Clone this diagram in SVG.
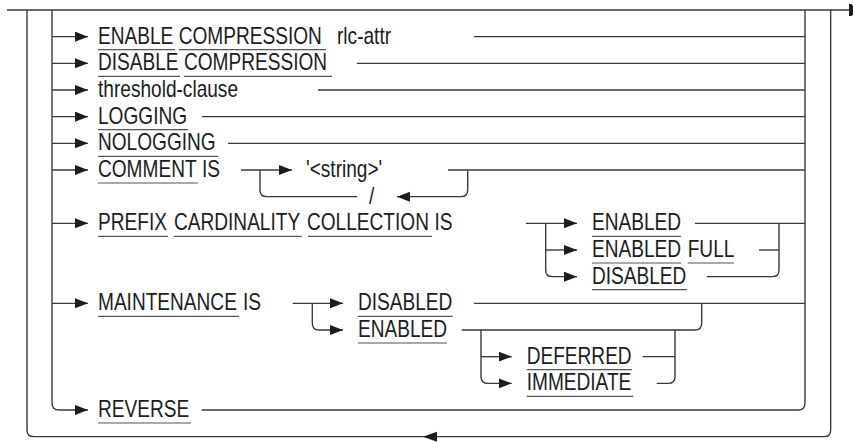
<svg xmlns="http://www.w3.org/2000/svg" width="854" height="442" viewBox="0 0 854 442">
<style>
  .c { fill: none; stroke: #3a3a3a; stroke-width: 1.4; }
  .u { stroke: #555; stroke-width: 1.1; }
  text { font-family: "Liberation Sans", Arial, sans-serif; font-size: 23px; fill: #1c1c1c; }
  .ah { fill: #1c1c1c; }
</style>
<defs>
  <marker id="a" markerUnits="userSpaceOnUse" markerWidth="14" markerHeight="11" refX="13" refY="5" orient="auto">
    <path d="M0,0 L13,5 L0,10 z" fill="#1c1c1c"/>
  </marker>
</defs>

<g id="connectors">
  <path class="c" d="M7,10 H849"/>
  <path class="ah" d="M849,4 H851 Q853,4 853,6.5 V13.5 Q853,16 851,16 H849 z"/>
  <path class="c" d="M27,10 V430 Q27,436.67 34,436.67 H824 Q830.67,436.67 830.67,430 V10"/>
  <polygon class="ah" points="423,436.67 437,431.67 437,441.67"/>
  <path class="c" d="M52,10 V403 Q52,410 59,410 H88" marker-end="url(#a)"/>
  <path class="c" d="M805,10 V403 Q805,410 798,410 H201.7"/>
  <path class="c" d="M52,36.67 H88" marker-end="url(#a)"/>
  <path class="c" d="M52,63.33 H88" marker-end="url(#a)"/>
  <path class="c" d="M52,90 H88" marker-end="url(#a)"/>
  <path class="c" d="M52,116.67 H88" marker-end="url(#a)"/>
  <path class="c" d="M52,143.33 H88" marker-end="url(#a)"/>
  <path class="c" d="M52,170 H88" marker-end="url(#a)"/>
  <path class="c" d="M52,223.33 H88" marker-end="url(#a)"/>
  <path class="c" d="M52,303.33 H88" marker-end="url(#a)"/>
  <path class="c" d="M474,36.67 H805"/>
  <path class="c" d="M357,63.33 H805"/>
  <path class="c" d="M318,90 H805"/>
  <path class="c" d="M202,116.67 H805"/>
  <path class="c" d="M228,143.33 H805"/>
  <path class="c" d="M241,170 H292" marker-end="url(#a)"/>
  <path class="c" d="M448,170 H805"/>
  <path class="c" d="M260,170 V190 Q260,196.67 267,196.67 H357"/>
  <path class="c" d="M467.7,170 V190 Q467.7,196.67 461,196.67 H397" marker-end="url(#a)"/>
  <path class="c" d="M526,223.33 H577" marker-end="url(#a)"/>
  <path class="c" d="M545.7,223.33 V270 Q545.7,276.67 552.4,276.67 H577" marker-end="url(#a)"/>
  <path class="c" d="M545.7,250 H577" marker-end="url(#a)"/>
  <path class="c" d="M695,223.33 H805"/>
  <path class="c" d="M759,250 H779"/>
  <path class="c" d="M707,276.67 H772.3 Q779,276.67 779,270 V223.33"/>
  <path class="c" d="M292.7,303.33 H343" marker-end="url(#a)"/>
  <path class="c" d="M312.3,303.33 V323.3 Q312.3,330 319,330 H343" marker-end="url(#a)"/>
  <path class="c" d="M474,303.33 H805"/>
  <path class="c" d="M461.7,330 H695 Q701.7,330 701.7,323.3 V303.33"/>
  <path class="c" d="M481,330 V376.67 Q481,383.33 487.7,383.33 H511.7" marker-end="url(#a)"/>
  <path class="c" d="M481,356.67 H511.7" marker-end="url(#a)"/>
  <path class="c" d="M642.7,356.67 H675"/>
  <path class="c" d="M656.7,383.33 H668.3 Q675,383.33 675,376.67 V330"/>
</g>

<g id="enable-compression">
  <text transform="translate(98 43.67) scale(0.83 1)">ENABLE</text>
  <text transform="translate(178.7 43.67) scale(0.83 1)">COMPRESSION</text>
  <text transform="translate(337 43.67) scale(0.83 1)">rlc-attr</text>
  <line class="u" x1="98" y1="49.67" x2="175" y2="49.67"/>
  <line class="u" x1="179" y1="49.67" x2="326" y2="49.67"/>
</g>
<g id="disable-compression">
  <text transform="translate(98 70.33) scale(0.83 1)">DISABLE</text>
  <text transform="translate(184 70.33) scale(0.83 1)">COMPRESSION</text>
  <line class="u" x1="98" y1="76.33" x2="180" y2="76.33"/>
  <line class="u" x1="184" y1="76.33" x2="332" y2="76.33"/>
</g>
<g id="threshold-clause">
  <text transform="translate(98 97) scale(0.83 1)">threshold-clause</text>
</g>
<g id="logging">
  <text transform="translate(98 123.67) scale(0.83 1)">LOGGING</text>
  <line class="u" x1="98" y1="129.67" x2="188" y2="129.67"/>
</g>
<g id="nologging">
  <text transform="translate(98 150.33) scale(0.83 1)">NOLOGGING</text>
  <line class="u" x1="98" y1="156.33" x2="218" y2="156.33"/>
</g>
<g id="comment-is">
  <text transform="translate(98 177) scale(0.83 1)">COMMENT</text>
  <text transform="translate(202 177) scale(0.83 1)">IS</text>
  <line class="u" x1="98" y1="183" x2="198" y2="183"/>
</g>
<g id="string">
  <text transform="translate(306 177) scale(0.83 1)">'&lt;string&gt;'</text>
</g>
<g id="slash">
  <text transform="translate(369 203.67) scale(0.83 1)">/</text>
</g>
<g id="prefix-cardinality">
  <text transform="translate(98 230.33) scale(0.83 1)">PREFIX</text>
  <text transform="translate(174 230.33) scale(0.83 1)">CARDINALITY</text>
  <text transform="translate(307 230.33) scale(0.83 1)">COLLECTION</text>
  <text transform="translate(434.5 230.33) scale(0.83 1)">IS</text>
  <line class="u" x1="98" y1="236.33" x2="168" y2="236.33"/>
  <line class="u" x1="174" y1="236.33" x2="301.7" y2="236.33"/>
  <line class="u" x1="308" y1="236.33" x2="432" y2="236.33"/>
</g>
<g id="pc-enabled">
  <text transform="translate(592 230.33) scale(0.83 1)">ENABLED</text>
  <line class="u" x1="592" y1="236.33" x2="681" y2="236.33"/>
</g>
<g id="pc-enabled-full">
  <text transform="translate(592 257) scale(0.83 1)">ENABLED</text>
  <text transform="translate(687.7 257) scale(0.83 1)">FULL</text>
  <line class="u" x1="592" y1="263" x2="681" y2="263"/>
  <line class="u" x1="687.7" y1="263" x2="734" y2="263"/>
</g>
<g id="pc-disabled">
  <text transform="translate(592 283.67) scale(0.83 1)">DISABLED</text>
  <line class="u" x1="592" y1="289.67" x2="687" y2="289.67"/>
</g>
<g id="maintenance-is">
  <text transform="translate(98 310.33) scale(0.83 1)">MAINTENANCE</text>
  <text transform="translate(243 310.33) scale(0.83 1)">IS</text>
  <line class="u" x1="98" y1="316.33" x2="239" y2="316.33"/>
</g>
<g id="m-disabled">
  <text transform="translate(358 310.33) scale(0.83 1)">DISABLED</text>
  <line class="u" x1="358" y1="316.33" x2="452.7" y2="316.33"/>
</g>
<g id="m-enabled">
  <text transform="translate(358 337) scale(0.83 1)">ENABLED</text>
  <line class="u" x1="358" y1="343" x2="447" y2="343"/>
</g>
<g id="deferred">
  <text transform="translate(526.7 363.67) scale(0.83 1)">DEFERRED</text>
  <line class="u" x1="526.7" y1="369.67" x2="632" y2="369.67"/>
</g>
<g id="immediate">
  <text transform="translate(526.7 390.33) scale(0.83 1)">IMMEDIATE</text>
  <line class="u" x1="526.7" y1="396.33" x2="633.3" y2="396.33"/>
</g>
<g id="reverse">
  <text transform="translate(98 417) scale(0.83 1)">REVERSE</text>
  <line class="u" x1="98" y1="423" x2="191" y2="423"/>
</g>
</svg>
